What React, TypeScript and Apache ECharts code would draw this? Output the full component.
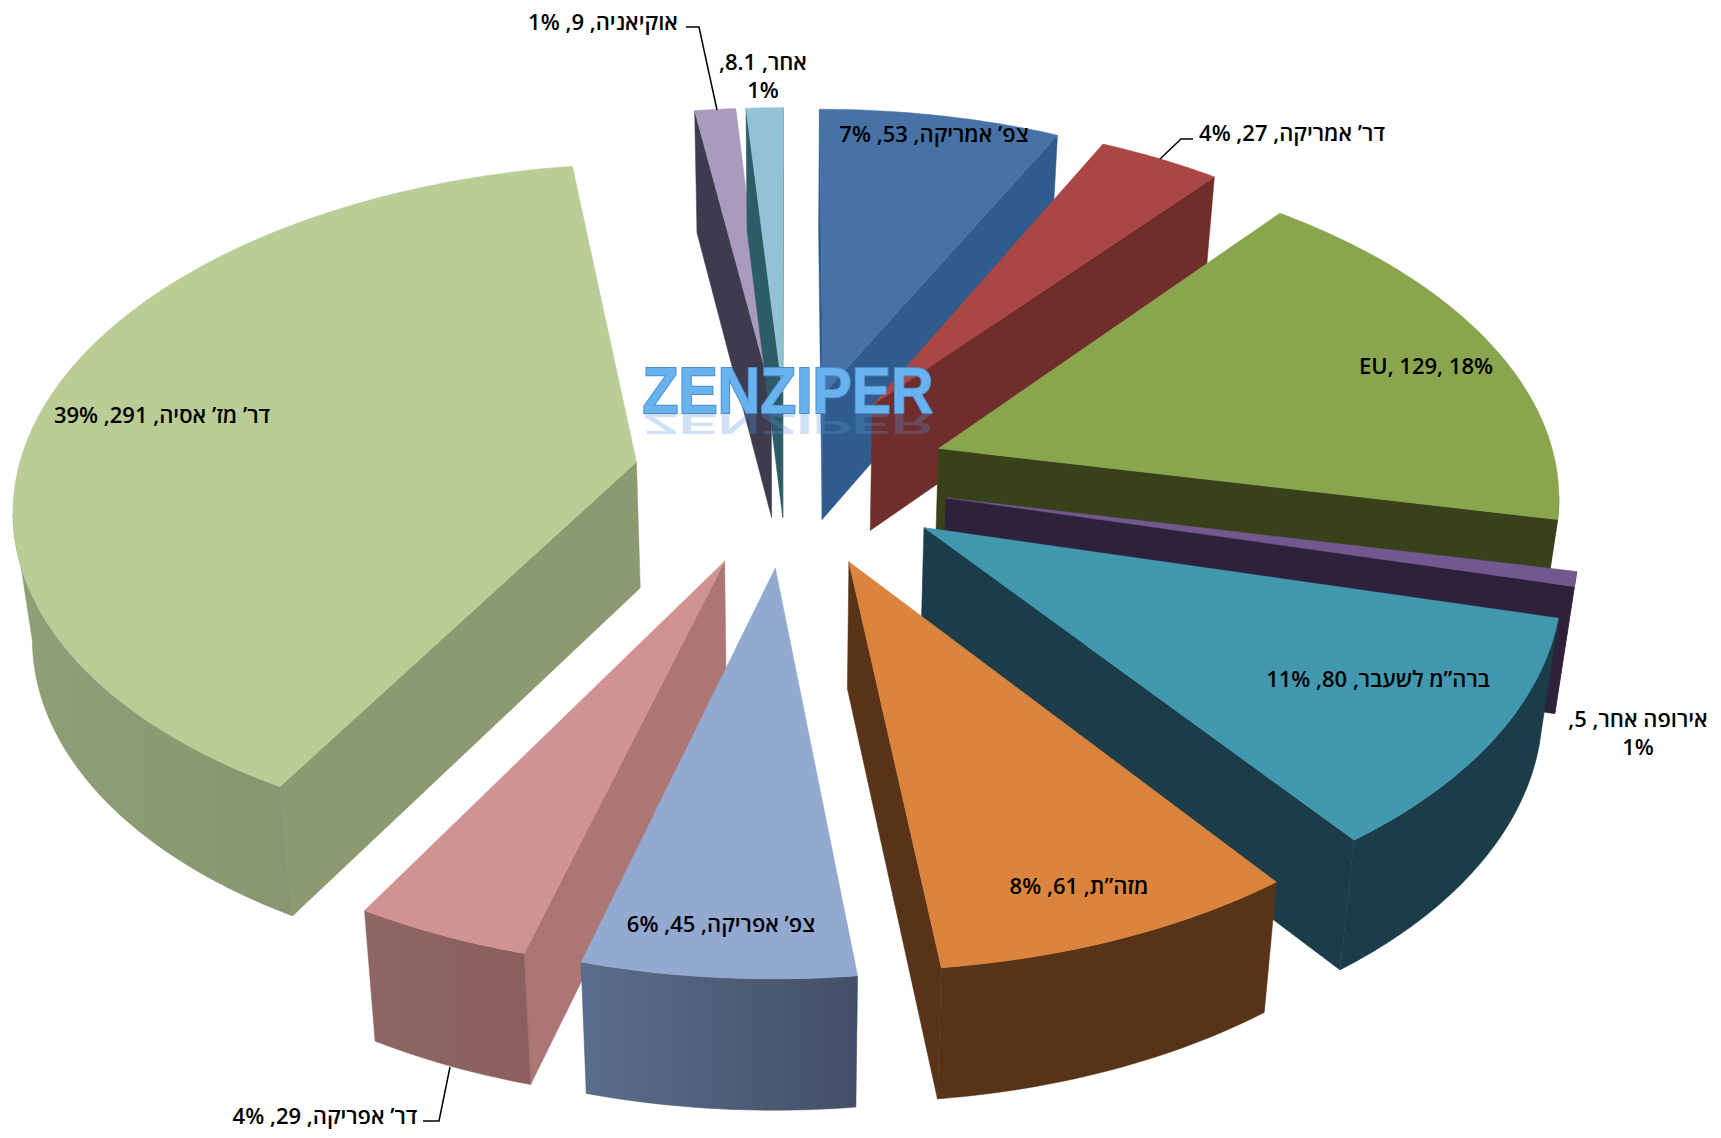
import React, { useEffect, useRef } from "react";
import * as echarts from "echarts";

// ---- data ----
const categories = ["צפ’ אמריקה", "דר’ אמריקה", "EU", "אירופה אחר", "ברה”מ לשעבר", "מזה”ת", "צפ’ אפריקה", "דר’ אפריקה", "דר’ מז’ אסיה", "אוקיאניה", "אחר"];
const values = [53, 27, 129, 5, 80, 61, 45, 29, 291, 9, 8.1];
const percents = [7, 4, 18, 1, 11, 8, 6, 4, 39, 1, 1];
const wrappedLabels = [false, false, false, true, false, false, false, false, false, false, true];

// ---- styles ----
const topColors = ["#4672A5", "#AA4643", "#89A54E", "#71588F", "#4198AF", "#DB843D", "#93A9CF", "#D19392", "#BACD96", "#A99BBD", "#92C3D4"];
const radialColors = ["#2F5C8C", "#6F2D2B", "#384119", "#2E213C", "#1B3C49", "#583317", "#5A6C88", "#AB7674", "#8B9A70", "#3F3B4E", "#2E5C66"];
const rimColorsLeft = ["#2F5C8C", "#6F2D2B", "#384119", "#2E213C", "#1B3C49", "#583317", "#5B6E8D", "#8F6664", "#8F9F76", "#3F3B4E", "#2E5C66"];
const rimColorsRight = ["#2F5C8C", "#6F2D2B", "#384119", "#2E213C", "#1B3C49", "#583317", "#434F66", "#8A5F5D", "#879670", "#3F3B4E", "#2E5C66"];
const drawOrder = [8, 9, 10, 0, 1, 2, 3, 4, 5, 7, 6];
const explodeRatios = [0.26, 0.26, 0.26, 0.26, 0.26, 0.26, 0.26, 0.26, 0.25, 0.26, 0.26];
const labelX = [934, 1292, 1426, 1638, 1378, 1079, 721, 325, 162, 603, 763];
const labelY = [133, 132, 365, 732, 678, 885, 923, 1115, 414, 21, 75];

const CX = 788, CY = 477.5;
const RX = 620, RY = 338, PERSP = 0.12;
const DEPTH = 126, DEPTH_P = 30, CONVERGE = 0.975;

const total = values.reduce((a, b) => a + b, 0);
const startAngles: number[] = [];
values.reduce((acc, v, i) => { startAngles[i] = acc; return acc + v; }, 0);

function project(pu: number, pv: number) {
  const w = 1 / (1 + PERSP * pv);
  return { x: CX + RX * pu * w, y: CY - RY * pv * w, w };
}
function lower(p: { x: number; y: number; w: number }) {
  return [CX + (p.x - CX) * CONVERGE, p.y + DEPTH + (p.w - 1) * DEPTH_P];
}

function renderItem(params: any, api: any) {
  const i = params.dataIndex;
  const value = api.value(0);
  const a0 = (startAngles[i] / total) * Math.PI * 2;
  const a1 = a0 + (value / total) * Math.PI * 2;
  const mid = (a0 + a1) / 2;
  const ou = explodeRatios[i] * Math.sin(mid), ov = explodeRatios[i] * Math.cos(mid);
  const n = Math.max(4, Math.ceil(((a1 - a0) * 180) / Math.PI));
  const rim: { x: number; y: number; w: number }[] = [];
  for (let k = 0; k <= n; k++) {
    const a = a0 + ((a1 - a0) * k) / n;
    rim.push(project(ou + Math.sin(a), ov + Math.cos(a)));
  }
  const apexP = project(ou, ov);
  const z = drawOrder.indexOf(i) * 10;
  const children: any[] = [];
  const radial = (p: any, q: any) => {
    if (q.x < p.x) {
      children.push({
        type: "polygon", z2: z,
        shape: { points: [[p.x, p.y], [q.x, q.y], lower(q), lower(p)] },
        style: { fill: radialColors[i], stroke: radialColors[i], lineWidth: 0.5 },
      });
    }
  };
  radial(apexP, rim[0]);
  radial(rim[n], apexP);
  const vis: typeof rim = [];
  for (let k = 0; k < n; k++) {
    if (rim[k + 1].x < rim[k].x) {
      if (!vis.length) vis.push(rim[k]);
      vis.push(rim[k + 1]);
    }
  }
  if (vis.length > 1) {
    const pts = vis.map((p) => [p.x, p.y]).concat(vis.slice().reverse().map(lower));
    children.push({
      type: "polygon", z2: z + 1,
      shape: { points: pts },
      style: {
        fill: new echarts.graphic.LinearGradient(0, 0, 1, 0, [
          { offset: 0, color: rimColorsLeft[i] },
          { offset: 1, color: rimColorsRight[i] },
        ]),
        stroke: rimColorsRight[i], lineWidth: 0.5,
      },
    });
  }
  const top = [[apexP.x, apexP.y]].concat(rim.map((p) => [p.x, p.y]));
  children.push({
    type: "polygon", z2: z + 2,
    shape: { points: top },
    style: { fill: topColors[i], stroke: topColors[i], lineWidth: 0.5 },
  });
  const text = wrappedLabels[i]
    ? `${categories[i]}, ${values[i]},\u200F\n${percents[i]}%`
    : `${categories[i]}, ${values[i]}, ${percents[i]}%`;
  children.push({
    type: "text", z2: 1000, x: labelX[i], y: labelY[i],
    style: {
      text, fill: "#000", align: "center", verticalAlign: "middle",
      font: "600 22px 'Open Sans','DejaVu Sans',sans-serif", lineHeight: 28,
    },
  });
  return { type: "group", children };
}

const LOGO_FONT = "bold 64px 'Liberation Sans',Arial,sans-serif";

export default function App() {
  const ref = useRef<HTMLDivElement>(null);
  useEffect(() => {
    const chart = echarts.init(ref.current!, undefined, { renderer: "svg" });
    const line = (points: number[][]) => ({
      type: "polyline", z: 10, shape: { points },
      style: { stroke: "#000", lineWidth: 1.5, fill: "none" },
    });
    chart.setOption({
      animation: false,
      backgroundColor: "#fff",
      series: [{
        type: "custom", coordinateSystem: "none", renderItem,
        data: values.map((v) => [v]), silent: true,
      }],
      graphic: [
        line([[686, 27], [699, 27], [717, 110]]),
        line([[1193, 139], [1181, 139], [1160, 159]]),
        line([[423, 1121], [439, 1121], [450, 1067]]),
        {
          type: "text", z: 20, x: 788, y: 423, scaleX: 0.92,
          style: {
            text: "ZENZIPER", font: LOGO_FONT, align: "center", verticalAlign: "bottom",
            fill: "#68B2EE", stroke: "#4A8BD6", lineWidth: 2,
          },
        },
        {
          type: "text", z: 19, x: 788, y: 410, scaleX: 0.92, scaleY: -0.45,
          style: {
            text: "ZENZIPER", font: LOGO_FONT, align: "center", verticalAlign: "bottom",
            fill: "#5A96E1", opacity: 0.28,
          },
        },
      ],
    });
    return () => chart.dispose();
  }, []);
  return <div ref={ref} style={{ position: "absolute", left: 0, top: 0, width: 1721, height: 1138 }} />;
}
